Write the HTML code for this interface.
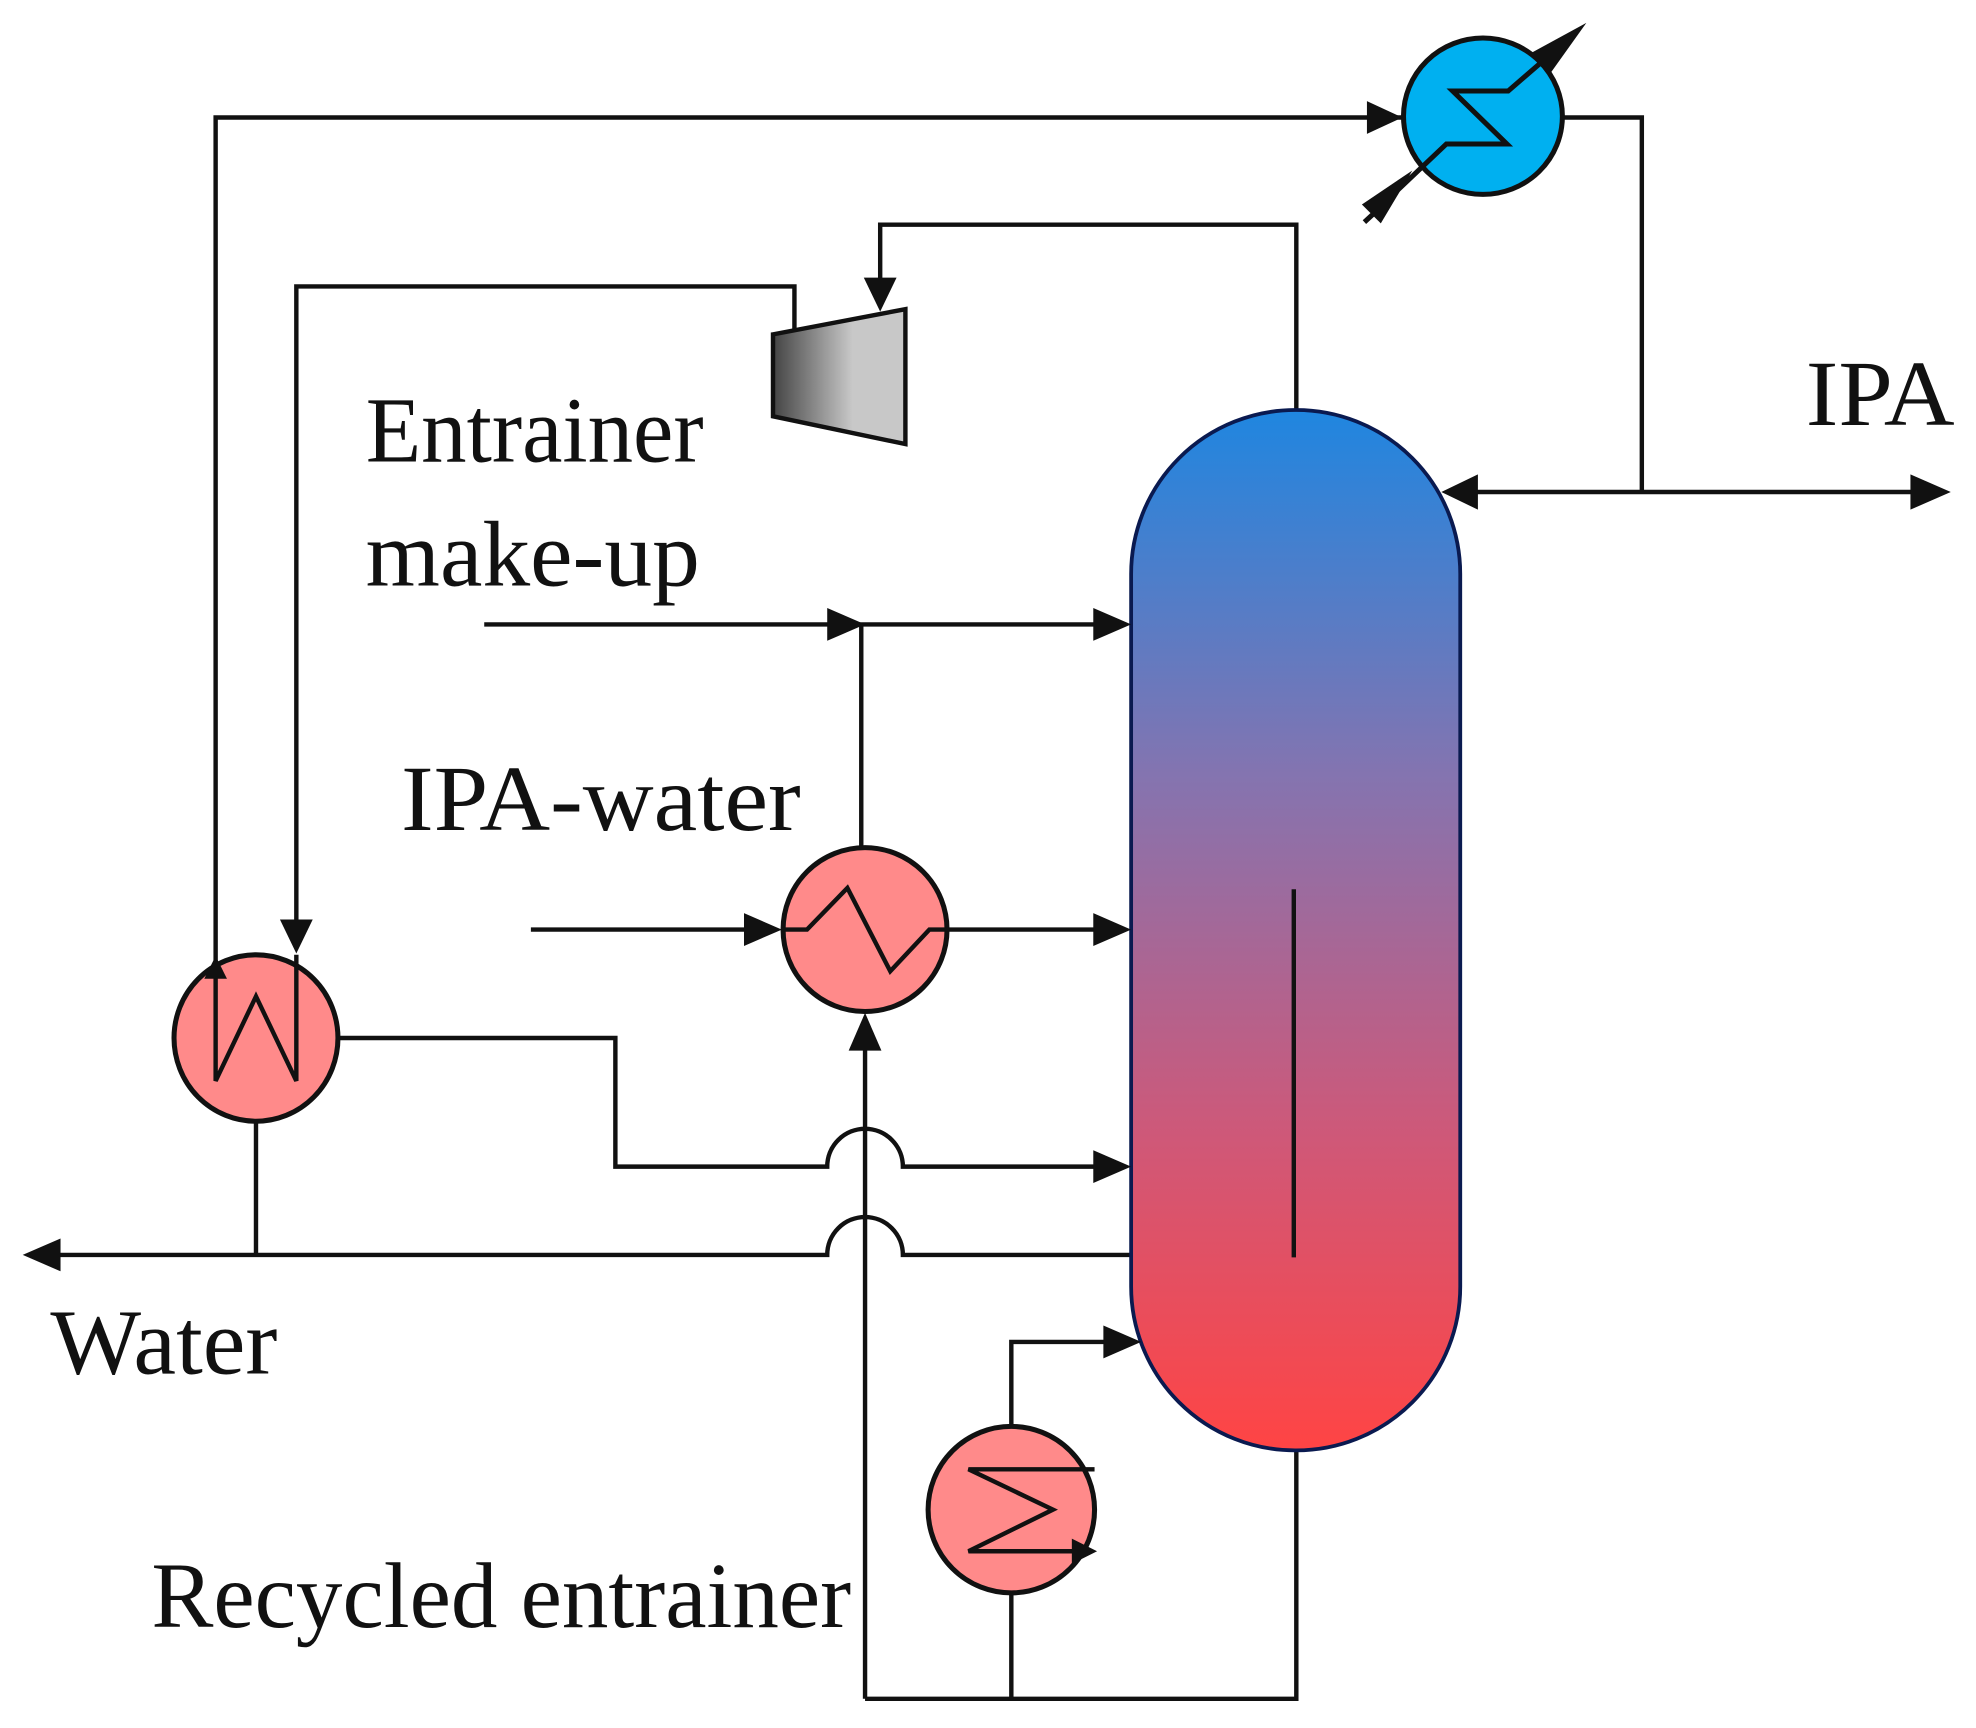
<!DOCTYPE html>
<html><head><meta charset="utf-8"><style>html,body{margin:0;padding:0;background:#fff}svg{display:block}</style></head>
<body>
<svg width="1976" height="1728" viewBox="0 0 1567 1370" xmlns="http://www.w3.org/2000/svg">
<defs>
<linearGradient id="col" x1="0" y1="0" x2="0" y2="1">
<stop offset="0" stop-color="#1f86e0"/>
<stop offset="0.35" stop-color="#8474b0"/>
<stop offset="0.7" stop-color="#cf5878"/>
<stop offset="1" stop-color="#ff4444"/>
</linearGradient>
<linearGradient id="cmp" x1="0" y1="0" x2="1" y2="0">
<stop offset="0" stop-color="#444"/>
<stop offset="0.6" stop-color="#c8c8c8"/>
<stop offset="1" stop-color="#c8c8c8"/>
</linearGradient>
</defs>
<g fill="none" stroke="#111" stroke-width="3.5">
<polyline points="171,770 171,93 1112,93"/>
<polyline points="1240,93 1302,93 1302,390"/>
<line x1="1150" y1="390" x2="1525" y2="390"/>
<polyline points="1028,325 1028,178 698,178 698,230"/>
<polyline points="630,265 630,227 235,227 235,740"/>
<line x1="384" y1="495" x2="880" y2="495"/>
<line x1="683" y1="495" x2="683" y2="672"/>
<line x1="421" y1="737" x2="605" y2="737"/>
<line x1="752" y1="737" x2="880" y2="737"/>
<line x1="686" y1="1347" x2="686" y2="820"/>
<path d="M268,823 L488,823 L488,925 L656,925 A30,30 0 0 1 716,925 L880,925"/>
<polyline points="203,889 203,995"/>
<path d="M897,995 L716,995 A30,30 0 0 0 656,995 L40,995"/>
<polyline points="802,1131 802,1064 885,1064"/>
<polyline points="686,1347 1028,1347 1028,1150"/>
<line x1="802" y1="1263" x2="802" y2="1347"/>
</g>
<rect x="897" y="325" width="261" height="825" rx="130" ry="130" fill="url(#col)" stroke="#0a1a50" stroke-width="3"/>
<line x1="1026" y1="705" x2="1026" y2="997" stroke="#111" stroke-width="3.5"/>
<polygon points="613,265 718,245 718,352 613,330" fill="url(#cmp)" stroke="#111" stroke-width="3.5"/>
<ellipse cx="1176" cy="92" rx="63" ry="62" fill="#00b0f0" stroke="#111" stroke-width="4"/>
<polyline points="1090,168 1147,114 1195,114 1152,72 1196,72 1240,34" fill="none" stroke="#111" stroke-width="4"/>
<polygon points="1258,18 1228,60 1214,42" fill="#111"/>
<polygon points="1120,135 1095,177 1080,162" fill="#111"/>
<line x1="1082" y1="176" x2="1095" y2="164" stroke="#111" stroke-width="4"/>
<circle cx="686" cy="737" r="65" fill="#ff8a8a" stroke="#111" stroke-width="4"/>
<polyline points="620,737 640,737 672,704 706,770 737,737 752,737" fill="none" stroke="#111" stroke-width="3.5"/>
<ellipse cx="203" cy="823" rx="65" ry="66" fill="#ff8a8a" stroke="#111" stroke-width="4"/>
<polyline points="171,765 171,857 203,790 235,857 235,757" fill="none" stroke="#111" stroke-width="3.5"/>
<circle cx="802" cy="1197" r="66" fill="#ff8a8a" stroke="#111" stroke-width="4"/>
<polyline points="868,1165 768,1165 835,1197 768,1230 855,1230" fill="none" stroke="#111" stroke-width="3.5"/>
<g fill="#111">
<polygon points="1112,93 1084,80 1084,106"/>
<polygon points="1143,390 1172,376 1172,404"/>
<polygon points="1547,390 1515,376 1515,404"/>
<polygon points="698,247 685,220 711,220"/>
<polygon points="235,756 222,729 248,729"/>
<polygon points="171,758 162,776 180,776"/>
<polygon points="686,495 656,482 656,508"/>
<polygon points="897,495 867,482 867,508"/>
<polygon points="620,737 590,724 590,750"/>
<polygon points="897,737 867,724 867,750"/>
<polygon points="897,925 867,912 867,938"/>
<polygon points="18,995 48,982 48,1008"/>
<polygon points="686,803 673,833 699,833"/>
<polygon points="905,1064 875,1051 875,1077"/>
<polygon points="870,1230 850,1220 850,1240"/>
</g>
<g font-family="Liberation Serif, serif" font-size="74" fill="#111">
<text x="1432" y="337" textLength="118" lengthAdjust="spacingAndGlyphs">IPA</text>
<text x="290" y="366" textLength="268" lengthAdjust="spacingAndGlyphs">Entrainer</text>
<text x="290" y="464" textLength="265" lengthAdjust="spacingAndGlyphs">make-up</text>
<text x="318" y="658" textLength="317" lengthAdjust="spacingAndGlyphs">IPA-water</text>
<text x="40" y="1089" textLength="180" lengthAdjust="spacingAndGlyphs">Water</text>
<text x="120" y="1290" textLength="555" lengthAdjust="spacingAndGlyphs">Recycled entrainer</text>
</g>
</svg>
</body></html>
